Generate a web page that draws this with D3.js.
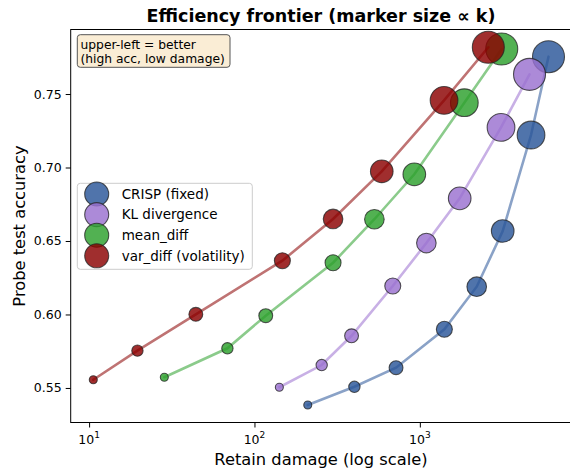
<!DOCTYPE html>
<html>
<head>
<meta charset="utf-8">
<script src="https://cdn.jsdelivr.net/npm/d3@7"></script>
<style>
  html, body { margin: 0; padding: 0; background: #fff; }
  svg { display: block; font-family: "DejaVu Sans", sans-serif; }
</style>
</head>
<body>
<svg id="chart" width="570" height="469"></svg>
<script>
// ---- data ----
const ks = [4, 8, 12, 16, 24, 32, 48, 64];
const seriesNames = ["CRISP (fixed)", "KL divergence", "mean_diff", "var_diff (volatility)"];
const seriesColors = ["#2a5599", "#9a70d0", "#2ca02c", "#8b0000"];

const crispDamage = [210, 402, 718, 1407, 2208, 3171, 4703, 5999];
const crispAcc    = [0.5384, 0.5508, 0.5638, 0.5899, 0.6189, 0.6568, 0.7221, 0.7754];

const klDamage = [141.4, 255, 386.5, 686, 1095, 1742, 3097, 4605];
const klAcc    = [0.5505, 0.5656, 0.5855, 0.6194, 0.6486, 0.6790, 0.7273, 0.7634];

const meanDamage = [28.5, 68.6, 117, 298.7, 531, 926, 1858, 3128];
const meanAcc    = [0.5573, 0.5770, 0.5992, 0.6352, 0.6648, 0.6954, 0.7441, 0.7806];

const varDamage = [10.6, 19.6, 44.2, 147.5, 298.7, 588.5, 1401, 2595];
const varAcc    = [0.5556, 0.5754, 0.6001, 0.6366, 0.6650, 0.6974, 0.7457, 0.7818];

const yTicks = [0.55, 0.60, 0.65, 0.70, 0.75];
const xTicks = [10, 100, 1000];
const xTickExp = ["1", "2", "3"];

const titleText = "Efficiency frontier (marker size \u221d k)";
const xLabel = "Retain damage (log scale)";
const yLabel = "Probe test accuracy";
const noteLines = ["upper-left = better", "(high acc, low damage)"];

// ---- build ----
const series = [
  { name: seriesNames[0], color: seriesColors[0], xs: crispDamage, ys: crispAcc },
  { name: seriesNames[1], color: seriesColors[1], xs: klDamage, ys: klAcc },
  { name: seriesNames[2], color: seriesColors[2], xs: meanDamage, ys: meanAcc },
  { name: seriesNames[3], color: seriesColors[3], xs: varDamage, ys: varAcc }
].map(s => ({ ...s, pts: s.xs.map((d, i) => ({ x: d, y: s.ys[i], k: ks[i] })) }));

const L = 70.7, R = 571.3, T = 29.5, B = 422.5;
const svg = d3.select("#chart");

const x = d3.scaleLog().domain([7.74, 8240]).range([L, R]);
const y = d3.scaleLinear().domain([0.5265, 0.7939]).range([B, T]);
const rScale = d3.scaleSqrt().domain([0, 64]).range([0, 16]);

// clip
svg.append("defs").append("clipPath").attr("id", "clip")
  .append("rect").attr("x", L).attr("y", T).attr("width", R - L).attr("height", B - T);

const plot = svg.append("g").attr("clip-path", "url(#clip)");
const line = d3.line().x(d => x(d.x)).y(d => y(d.y));

series.forEach(s => {
  plot.append("path").datum(s.pts)
    .attr("d", line)
    .attr("fill", "none")
    .attr("stroke", s.color)
    .attr("stroke-opacity", 0.55)
    .attr("stroke-width", 2.6)
    .attr("stroke-linecap", "round");
  plot.selectAll(null).data(s.pts).enter().append("circle")
    .attr("cx", d => x(d.x))
    .attr("cy", d => y(d.y))
    .attr("r", d => rScale(d.k))
    .attr("fill", s.color)
    .attr("fill-opacity", 0.82)
    .attr("stroke", "#222")
    .attr("stroke-opacity", 0.75)
    .attr("stroke-width", 1.1);
});

// axes
const yAxis = d3.axisLeft(y).tickValues(yTicks).tickFormat(d3.format(".2f")).tickSize(5).tickPadding(4);
const gy = svg.append("g").attr("transform", `translate(${L},0)`).call(yAxis);
gy.select(".domain").remove();
gy.selectAll("text").attr("font-size", 12.5).attr("fill", "#000").attr("font-family", "DejaVu Sans");
gy.selectAll("line").attr("stroke", "#000");

// minor x ticks
const minor = [];
for (let e = 0; e <= 3; e++) for (let m = 2; m <= 9; m++) {
  const v = m * Math.pow(10, e);
  if (v >= x.domain()[0] && v <= x.domain()[1]) minor.push(v);
}
const gx = svg.append("g").attr("transform", `translate(0,${B})`);
gx.call(d3.axisBottom(x).tickValues(minor).tickFormat("").tickSize(3));
gx.call(d3.axisBottom(x).tickValues(xTicks).tickFormat("").tickSize(5));
gx.selectAll(".domain").remove();
gx.selectAll("line").attr("stroke", "#000");
xTicks.forEach((v, i) => {
  const t = svg.append("text")
    .attr("x", x(v)).attr("y", B + 21)
    .attr("text-anchor", "middle")
    .attr("font-size", 12.5).attr("fill", "#000");
  t.append("tspan").text("10");
  t.append("tspan").attr("font-size", 9).attr("dy", -5.5).text(xTickExp[i]);
});

// frame
svg.append("rect").attr("x", L).attr("y", T).attr("width", R - L).attr("height", B - T)
  .attr("fill", "none").attr("stroke", "#000").attr("stroke-width", 1);

// labels
svg.append("text").attr("x", (L + R) / 2).attr("y", 465)
  .attr("text-anchor", "middle").attr("font-size", 16.3).attr("fill", "#000").text(xLabel);
svg.append("text").attr("transform", `translate(25,${(T + B) / 2}) rotate(-90)`)
  .attr("text-anchor", "middle").attr("font-size", 16.3).attr("fill", "#000").text(yLabel);
svg.append("text").attr("x", (L + R) / 2).attr("y", 22)
  .attr("text-anchor", "middle").attr("font-size", 17.5).attr("font-weight", "bold")
  .attr("fill", "#000").text(titleText);

// note box
svg.append("rect").attr("x", 77.3).attr("y", 34.7).attr("width", 152.7).attr("height", 32.6)
  .attr("rx", 3).attr("fill", "#f5deb3").attr("fill-opacity", 0.55)
  .attr("stroke", "#555").attr("stroke-width", 1);
noteLines.forEach((tx, i) => {
  svg.append("text").attr("x", 80.5).attr("y", 49 + i * 13.6)
    .attr("font-size", 12.3).attr("fill", "#000").text(tx);
});

// legend
const lg = svg.append("g");
lg.append("rect").attr("x", 77.3).attr("y", 183.3).attr("width", 175).attr("height", 86)
  .attr("rx", 3).attr("fill", "#fff").attr("fill-opacity", 0.8)
  .attr("stroke", "#ccc").attr("stroke-width", 1);
series.forEach((s, i) => {
  const cy = 194 + i * 20.6;
  lg.append("circle").attr("cx", 96.7).attr("cy", cy).attr("r", 12)
    .attr("fill", s.color).attr("fill-opacity", 0.82)
    .attr("stroke", "#222").attr("stroke-opacity", 0.75).attr("stroke-width", 1.1);
  lg.append("text").attr("x", 121.7).attr("y", cy + 4.8)
    .attr("font-size", 13.5).attr("fill", "#000").text(s.name);
});
</script>
</body>
</html>
